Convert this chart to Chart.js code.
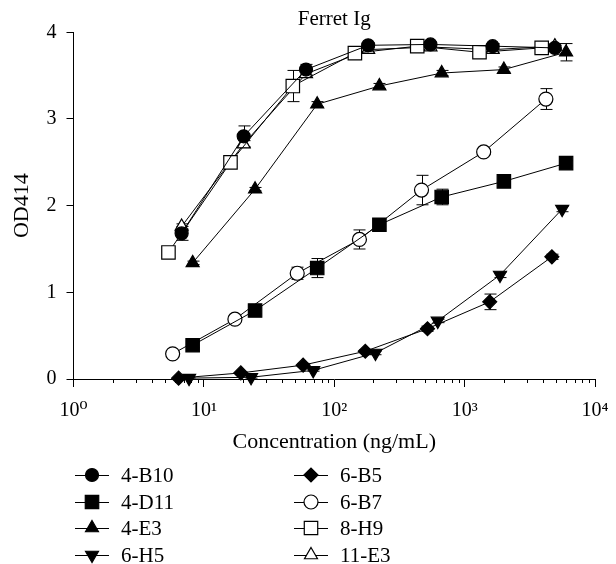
<!DOCTYPE html>
<html>
<head>
<meta charset="utf-8">
<script src="https://cdn.jsdelivr.net/npm/chart.js@4.4.1/dist/chart.umd.min.js"></script>
<style>
  html, body { margin: 0; padding: 0; background: #fff; }
  #wrap { width: 616px; height: 564px; }
</style>
</head>
<body>
<div id="wrap"><canvas id="odChart" width="616" height="564"></canvas></div>
<script>
// Ferret Ig ELISA - OD414 against antibody concentration (3-fold dilutions)

// concentrations (ng/mL), one list per clone
const conc_4B10 = [6.75, 20.2, 60.7, 182, 547, 1640, 4920];
const conc_4D11 = [8.2, 24.7, 74, 222, 667, 2000, 6000];
const conc_4E3 = [8.2, 24.7, 74, 222, 667, 2000, 6000];
const conc_6H5 = [7.7, 23, 69, 207, 622, 1867, 5600];
const conc_6B5 = [6.4, 19.2, 57.7, 173, 519, 1557, 4670];
const conc_6B7 = [5.76, 17.3, 52, 156, 467, 1400, 4200];
const conc_8H9 = [5.35, 16, 48.1, 144, 433, 1300, 3900];
const conc_11E3 = [6.75, 20.2, 60.7, 182, 547, 1640, 4920];

// mean OD414
const od_4B10 = [1.68, 2.80, 3.57, 3.85, 3.86, 3.84, 3.82];
const od_4D11 = [0.39, 0.79, 1.28, 1.78, 2.10, 2.28, 2.49];
const od_4E3 = [1.34, 2.19, 3.17, 3.38, 3.53, 3.57, 3.77];
const od_6H5 = [0.01, 0.02, 0.10, 0.30, 0.67, 1.20, 1.96];
const od_6B5 = [0.01, 0.07, 0.16, 0.32, 0.58, 0.89, 1.41];
const od_6B7 = [0.29, 0.69, 1.22, 1.61, 2.18, 2.62, 3.23];
const od_8H9 = [1.46, 2.50, 3.38, 3.76, 3.84, 3.77, 3.82];
const od_11E3 = [1.76, 2.71, 3.52, 3.80, 3.83, 3.80, 3.84];

// error bars (SD)
const sd_4B10 = [0.08, 0.12, 0.06, 0.03, 0.03, 0.03, 0.03];
const sd_4D11 = [0.03, 0.04, 0.11, 0.04, 0.09, 0.04, 0.03];
const sd_4E3 = [0.02, 0.02, 0.03, 0.03, 0.03, 0.03, 0.10];
const sd_6H5 = [0.01, 0.01, 0.01, 0.02, 0.02, 0.03, 0.03];
const sd_6B5 = [0.01, 0.01, 0.02, 0.02, 0.03, 0.09, 0.03];
const sd_6B7 = [0.02, 0.03, 0.07, 0.11, 0.17, 0.03, 0.12];
const sd_8H9 = [0.03, 0.05, 0.18, 0.05, 0.04, 0.04, 0.03];
const sd_11E3 = [0.03, 0.04, 0.04, 0.03, 0.03, 0.03, 0.03];

// axis ticks
const xTickValues = [1, 10, 100, 1000, 10000];
const yTickValues = [0, 1, 2, 3, 4];

const SERIF = '"Liberation Serif", "DejaVu Serif", serif';
const SUP = ['\u2070', '\u00b9', '\u00b2', '\u00b3', '\u2074'];

// marker look per clone
const markers = {
  '4-B10': { pointStyle: 'circle', radius: 6.5, filled: true },
  '4-D11': { pointStyle: 'rect', radius: 9.5, filled: true },
  '4-E3': { pointStyle: 'triangle', radius: 7.5, filled: true },
  '6-H5': { pointStyle: 'triangle', radius: 7.5, filled: true, rotation: 180 },
  '6-B5': { pointStyle: 'rectRot', radius: 7, filled: true },
  '6-B7': { pointStyle: 'circle', radius: 7, filled: false },
  '8-H9': { pointStyle: 'rect', radius: 9.5, filled: false },
  '11-E3': { pointStyle: 'triangle', radius: 7.5, filled: false }
};

const series = [
  ['4-B10', conc_4B10, od_4B10, sd_4B10],
  ['4-D11', conc_4D11, od_4D11, sd_4D11],
  ['4-E3', conc_4E3, od_4E3, sd_4E3],
  ['6-H5', conc_6H5, od_6H5, sd_6H5],
  ['6-B5', conc_6B5, od_6B5, sd_6B5],
  ['6-B7', conc_6B7, od_6B7, sd_6B7],
  ['8-H9', conc_8H9, od_8H9, sd_8H9],
  ['11-E3', conc_11E3, od_11E3, sd_11E3]
];

const datasets = series.map(([label, xs, ys, sd]) => {
  const m = markers[label];
  return {
    label: label,
    data: xs.map((x, i) => ({ x: x, y: ys[i] })),
    sd: sd,
    showLine: true,
    tension: 0,
    clip: false,
    borderColor: '#000',
    borderWidth: 1,
    pointStyle: m.pointStyle,
    pointRadius: m.radius,
    pointRotation: m.rotation || 0,
    pointBackgroundColor: m.filled ? '#000' : '#fff',
    pointBorderColor: '#000',
    pointBorderWidth: 1.2
  };
});

// error bars, drawn under the markers
const errorBars = {
  id: 'errorBars',
  beforeDatasetsDraw(chart) {
    const ctx = chart.ctx;
    const xs = chart.scales.x, ys = chart.scales.y;
    ctx.save();
    ctx.strokeStyle = '#000';
    ctx.lineWidth = 1;
    chart.data.datasets.forEach((ds) => {
      ds.data.forEach((p, i) => {
        const e = ds.sd[i];
        const px = Math.round(xs.getPixelForValue(p.x)) + 0.5;
        const top = ys.getPixelForValue(p.y + e);
        const bot = ys.getPixelForValue(Math.max(p.y - e, 0));
        ctx.beginPath();
        ctx.moveTo(px, top); ctx.lineTo(px, bot);
        ctx.moveTo(px - 6, top); ctx.lineTo(px + 6, top);
        ctx.moveTo(px - 6, bot); ctx.lineTo(px + 6, bot);
        ctx.stroke();
      });
    });
    ctx.restore();
  }
};

// minor log ticks on the x axis
const minorTicks = {
  id: 'minorTicks',
  afterDraw(chart) {
    const ctx = chart.ctx;
    const xs = chart.scales.x;
    const y0 = chart.chartArea.bottom;
    ctx.save();
    ctx.strokeStyle = '#000';
    ctx.lineWidth = 1;
    ctx.beginPath();
    for (let d = 0; d < 4; d++) {
      for (let k = 2; k < 10; k++) {
        const px = Math.round(xs.getPixelForValue(k * Math.pow(10, d))) + 0.5;
        ctx.moveTo(px, y0);
        ctx.lineTo(px, y0 + 4);
      }
    }
    ctx.stroke();
    ctx.restore();
  }
};

// two-column legend below the axis (line through marker)
const lineLegend = {
  id: 'lineLegend',
  afterDraw(chart) {
    const ctx = chart.ctx;
    const colX = [92, 311];
    const rowY = [475, 502, 528, 555];
    ctx.save();
    chart.data.datasets.forEach((ds, i) => {
      const cx = colX[Math.floor(i / 4)];
      const cy = rowY[i % 4];
      ctx.strokeStyle = '#000';
      ctx.lineWidth = 1;
      ctx.beginPath();
      ctx.moveTo(cx - 17, cy + 0.5);
      ctx.lineTo(cx + 17, cy + 0.5);
      ctx.stroke();
      ctx.fillStyle = ds.pointBackgroundColor;
      ctx.lineWidth = ds.pointBorderWidth;
      Chart.helpers.drawPoint(ctx, {
        pointStyle: ds.pointStyle,
        rotation: ds.pointRotation,
        radius: ds.pointRadius,
        borderWidth: ds.pointBorderWidth
      }, cx, cy);
      ctx.fillStyle = '#000';
      ctx.font = '21px ' + SERIF;
      ctx.textBaseline = 'middle';
      ctx.textAlign = 'left';
      ctx.fillText(ds.label, cx + 29, cy + 1);
    });
    ctx.restore();
  }
};

new Chart(document.getElementById('odChart').getContext('2d'), {
  type: 'scatter',
  data: { datasets: datasets },
  options: {
    responsive: false,
    animation: false,
    layout: { padding: { top: 0, right: 21, bottom: 109, left: 0 } },
    plugins: {
      legend: { display: false },
      tooltip: { enabled: false },
      title: {
        display: true,
        fullSize: false,
        text: 'Ferret Ig',
        color: '#000',
        font: { family: SERIF, size: 21, weight: 'normal' },
        padding: { top: 7, bottom: 0.1 }
      }
    },
    scales: {
      x: {
        type: 'logarithmic',
        min: 1,
        max: 10000,
        afterBuildTicks: (s) => { s.ticks = xTickValues.map((v) => ({ value: v })); },
        afterFit: (s) => { s.height = 76; s.paddingLeft = 0; s.paddingRight = 0; },
        border: { display: true, color: '#000', width: 1 },
        grid: { drawOnChartArea: false, drawTicks: true, tickLength: 8, color: '#000' },
        ticks: {
          color: '#000',
          font: { family: SERIF, size: 20 },
          padding: 12,
          maxRotation: 0,
          autoSkip: false,
          callback: (v) => '10' + SUP[Math.round(Math.log10(v))]
        },
        title: {
          display: true,
          text: 'Concentration (ng/mL)',
          color: '#000',
          font: { family: SERIF, size: 22 },
          padding: { top: 0, bottom: 0 }
        }
      },
      y: {
        min: 0,
        max: 4,
        afterBuildTicks: (s) => { s.ticks = yTickValues.map((v) => ({ value: v })); },
        afterFit: (s) => { s.width = 73.5; s.paddingTop = 0; s.paddingBottom = 0; },
        border: { display: true, color: '#000', width: 1 },
        grid: { drawOnChartArea: false, drawTicks: true, tickLength: 7, color: '#000' },
        ticks: { color: '#000', font: { family: SERIF, size: 20 }, padding: 10 },
        title: {
          display: true,
          text: 'OD414',
          color: '#000',
          font: { family: SERIF, size: 22 },
          padding: { top: 9.3, bottom: 0 }
        }
      }
    }
  },
  plugins: [errorBars, minorTicks, lineLegend]
});
</script>
</body>
</html>
